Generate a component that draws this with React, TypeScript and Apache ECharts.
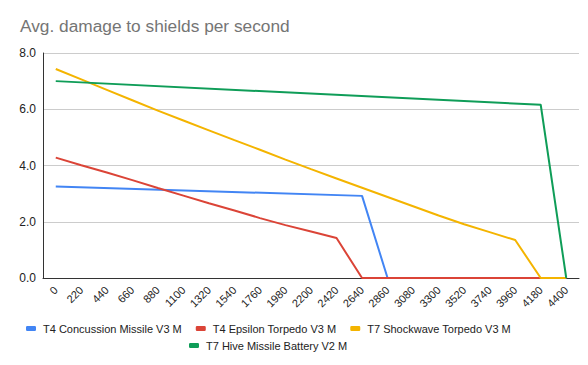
import React, { useEffect, useRef } from "react";
import * as echarts from "echarts";

const categories = ["0","220","440","660","880","1100","1320","1540","1760","1980","2200","2420","2640","2860","3080","3300","3520","3740","3960","4180","4400"];
const seriesNames = ["T4 Concussion Missile V3 M","T4 Epsilon Torpedo V3 M","T7 Shockwave Torpedo V3 M","T7 Hive Missile Battery V2 M"];
const concussion = [3.25,null,null,null,null,null,null,null,null,null,null,null,2.92,0,0,0,0,0,0,0,0];
const epsilon = [4.28,4.01,3.75,3.48,3.2,2.93,2.66,2.4,2.13,1.88,1.65,1.42,0,0,0,0,0,0,0,0,0];
const shockwave = [7.43,7.06,6.69,6.32,5.95,5.6,5.25,4.9,4.56,4.21,3.87,3.54,3.21,2.88,2.55,2.22,1.91,1.63,1.35,0,0];
const hive = [7.0,null,null,null,null,null,null,null,null,null,null,null,null,null,null,null,null,null,null,6.16,0];
const colors = ["#4285F4","#DB4437","#F4B400","#0F9D58"];
const title = "Avg. damage to shields per second";

const FONT = "'Liberation Sans', Arial, sans-serif";

export default function App() {
  const ref = useRef<HTMLDivElement>(null);
  useEffect(() => {
    const chart = echarts.init(ref.current!, null, { renderer: "svg" });
    const datas = [concussion, epsilon, shockwave, hive];
    const legendCommon = {
      itemWidth: 10,
      itemHeight: 5,
      itemGap: 14,
      icon: "roundRect",
      textStyle: { fontFamily: FONT, fontSize: 11, color: "#222", padding: [0, 0, 0, 2] },
    };
    chart.setOption({
      animation: false,
      backgroundColor: "#fff",
      color: colors,
      title: {
        text: title,
        left: 15,
        top: 12,
        textStyle: { fontFamily: FONT, fontSize: 17.3, fontWeight: "normal", color: "#757575" },
      },
      grid: { left: 43, right: 9, top: 53, bottom: 87, containLabel: false },
      legend: [
        { ...legendCommon, left: 21, top: 318, data: seriesNames.slice(0, 3) },
        { ...legendCommon, left: 184, top: 335, data: seriesNames.slice(3) },
      ],
      xAxis: {
        type: "category",
        data: categories,
        boundaryGap: true,
        axisLine: { lineStyle: { color: "#333", width: 1 } },
        axisTick: { show: false },
        axisLabel: { rotate: 45, interval: 0, fontFamily: FONT, fontSize: 11, color: "#222", margin: 10 },
      },
      yAxis: {
        type: "value",
        min: 0,
        max: 8,
        interval: 2,
        axisLine: { show: true, lineStyle: { color: "#333", width: 1 } },
        axisTick: { show: false },
        splitLine: { lineStyle: { color: "#ccc" } },
        axisLabel: { formatter: (v: number) => v.toFixed(1), fontFamily: FONT, fontSize: 12, color: "#222", margin: 7 },
      },
      series: datas.map((d, i) => ({
        name: seriesNames[i],
        type: "line",
        data: d,
        connectNulls: true,
        showSymbol: false,
        symbol: "none",
        lineStyle: { width: 2, color: colors[i] },
        itemStyle: { color: colors[i] },
      })),
    });
    return () => chart.dispose();
  }, []);
  return <div ref={ref} style={{ width: 588, height: 365, position: "absolute", left: 0, top: 0 }} />;
}
